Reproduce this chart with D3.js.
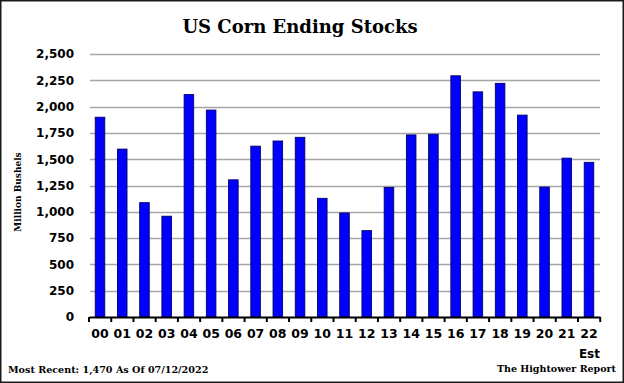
<!DOCTYPE html>
<html>
<head>
<meta charset="utf-8">
<script src="https://cdn.jsdelivr.net/npm/d3@7"></script>
<style>
  html, body { margin: 0; padding: 0; background: #fff; }
  svg { display: block; }
</style>
</head>
<body>
<script>
// ---- Data ----
const categories = ["00","01","02","03","04","05","06","07","08","09","10","11","12","13","14","15","16","17","18","19","20","21","22"];
const endingStocks = [1899,1596,1087,958,2114,1967,1304,1624,1673,1708,1128,989,821,1232,1731,1737,2293,2140,2221,1919,1235,1510,1470];
const yTicks = [0,250,500,750,1000,1250,1500,1750,2000,2250,2500];
const titleText = "US Corn Ending Stocks";
const yAxisTitle = "Million Bushels";
const footerLeft = "Most Recent: 1,470 As Of 07/12/2022";
const footerRight = "The Hightower Report";
const lastLabelNote = "Est";

const W = 624, H = 383;
const svg = d3.select("body").append("svg").attr("width", W).attr("height", H);

svg.append("rect").attr("x", 0).attr("y", 0).attr("width", W).attr("height", H).attr("fill", "#fff");

const x = d3.scaleBand().domain(categories).range([89, 600]).paddingInner(0.57).paddingOuter(0.28);
const y = d3.scaleLinear().domain([0, 2500]).range([317, 54]);

// gridlines
svg.append("g").selectAll("line").data(yTicks.filter(d => d > 0)).join("line")
  .attr("x1", 90).attr("x2", 600)
  .attr("y1", d => Math.round(y(d)) + 0.5).attr("y2", d => Math.round(y(d)) + 0.5)
  .attr("stroke", "#a6a6a6").attr("stroke-width", 1.3);

// y labels
const fmt = d3.format(",");
svg.append("g").selectAll("text").data(yTicks).join("text")
  .attr("x", 74).attr("y", d => y(d)).attr("dy", "0.36em")
  .attr("text-anchor", "end")
  .attr("font-family", "DejaVu Sans").attr("font-weight", "bold").attr("font-size", 12)
  .attr("fill", "#000")
  .text(d => fmt(d));

// bars
svg.append("g").selectAll("rect").data(endingStocks).join("rect")
  .attr("x", (d, i) => x(categories[i]))
  .attr("width", x.bandwidth())
  .attr("y", d => y(d))
  .attr("height", d => y(0) - y(d))
  .attr("fill", "#0000ff")
  .attr("stroke", "#00006a").attr("stroke-width", 0.9);

// x axis
const xAxis = d3.axisBottom(x).tickSize(0).tickPadding(10).tickSizeOuter(0);
const gx = svg.append("g").attr("transform", "translate(0,317)").call(xAxis);
gx.select(".domain").attr("stroke", "#000").attr("stroke-width", 2.2);
gx.selectAll(".tick text")
  .attr("font-family", "DejaVu Sans").attr("font-weight", "bold").attr("font-size", 12.5)
  .attr("fill", "#000").attr("dy", "0.9em");
// tick marks at band boundaries
const step = x.step();
const bounds = d3.range(categories.length + 1).map(i => x.range()[0] + i * step);
svg.append("g").selectAll("line").data(bounds).join("line")
  .attr("x1", d => d).attr("x2", d => d)
  .attr("y1", 317).attr("y2", 322)
  .attr("stroke", "#000").attr("stroke-width", 2);

// Est
svg.append("text").attr("x", x(categories[categories.length - 1]) + x.bandwidth() / 2 + 11).attr("y", 358)
  .attr("text-anchor", "end")
  .attr("font-family", "DejaVu Sans").attr("font-weight", "bold").attr("font-size", 12)
  .attr("fill", "#000").text(lastLabelNote);

// title
svg.append("text").attr("x", 300).attr("y", 33).attr("text-anchor", "middle")
  .attr("font-family", "DejaVu Serif").attr("font-weight", "bold").attr("font-size", 18)
  .attr("fill", "#000").text(titleText);

// y axis title
svg.append("text").attr("transform", "translate(21,192) rotate(-90)").attr("text-anchor", "middle")
  .attr("font-family", "DejaVu Serif").attr("font-weight", "bold").attr("font-size", 9)
  .attr("fill", "#000").text(yAxisTitle);

// footers
svg.append("text").attr("x", 8).attr("y", 373)
  .attr("font-family", "DejaVu Serif").attr("font-weight", "bold").attr("font-size", 9.6)
  .attr("fill", "#000").text(footerLeft);
svg.append("text").attr("x", 616).attr("y", 372).attr("text-anchor", "end")
  .attr("font-family", "DejaVu Serif").attr("font-weight", "bold").attr("font-size", 9.5)
  .attr("fill", "#000").text(footerRight);

// outer border
svg.append("rect").attr("x", 0.75).attr("y", 0.75).attr("width", W - 1.5).attr("height", H - 1.5)
  .attr("fill", "none").attr("stroke", "#1a1a1a").attr("stroke-width", 1.5);
</script>
</body>
</html>
